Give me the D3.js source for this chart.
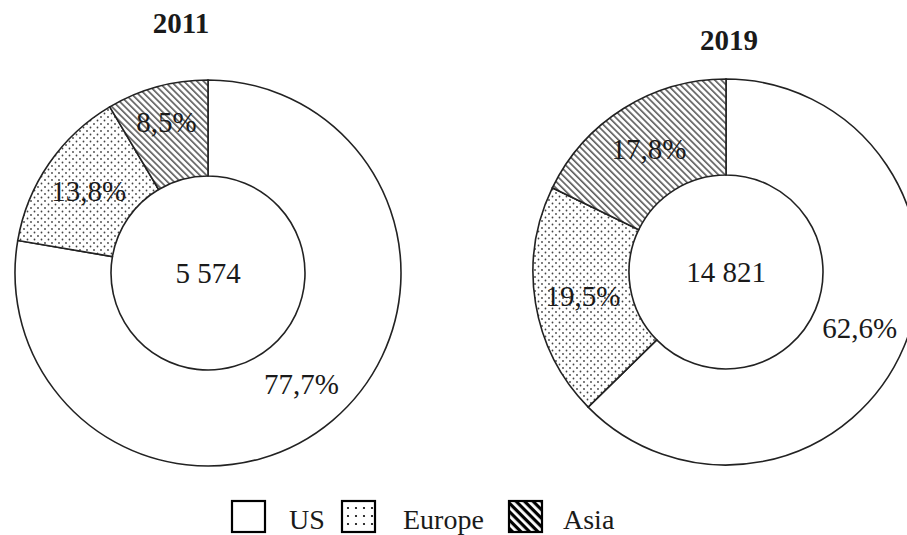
<!DOCTYPE html>
<html>
<head>
<meta charset="utf-8">
<script src="https://cdn.jsdelivr.net/npm/d3@7"></script>
<style>
  html, body { margin: 0; padding: 0; background: #fff; }
  svg { display: block; }
  text { font-family: "Liberation Serif", "Times New Roman", serif; fill: #1a1a1a; }
</style>
</head>
<body>
<svg id="chart" width="907" height="535"></svg>
<script>
// ---- data ----
const categories = ["US", "Europe", "Asia"];
const years = ["2011", "2019"];
const totals = [5574, 14821];
const shares2011 = [77.7, 13.8, 8.5];
const shares2019 = [62.6, 19.5, 17.8];

// ---- setup ----
const svg = d3.select("#chart");
const loc = d3.formatLocale({decimal: ",", thousands: " ", grouping: [3], currency: ["", ""]});
const fmtPct = v => loc.format(".1f")(v) + "%";
const fmtTot = loc.format(",d");

const defs = svg.append("defs");
// Europe: dotted pattern
const pDots = defs.append("pattern").attr("id", "dots")
  .attr("patternUnits", "userSpaceOnUse").attr("width", 7).attr("height", 7);
pDots.append("rect").attr("width", 7).attr("height", 7).attr("fill", "#fff");
pDots.append("circle").attr("cx", 1.5).attr("cy", 1.5).attr("r", 0.9).attr("fill", "#444");
pDots.append("circle").attr("cx", 5).attr("cy", 5).attr("r", 0.9).attr("fill", "#444");
// Asia: hatched pattern
const pHatch = defs.append("pattern").attr("id", "hatch")
  .attr("patternUnits", "userSpaceOnUse").attr("width", 4.6).attr("height", 4.6)
  .attr("patternTransform", "rotate(45)");
pHatch.append("rect").attr("width", 4.6).attr("height", 4.6).attr("fill", "#fff");
pHatch.append("line").attr("x1", 0).attr("y1", 1).attr("x2", 4.6).attr("y2", 1)
  .attr("stroke", "#333").attr("stroke-width", 1.3);
// legend versions
const pDotsL = defs.append("pattern").attr("id", "dotsL")
  .attr("patternUnits", "userSpaceOnUse").attr("width", 8).attr("height", 8);
pDotsL.append("rect").attr("width", 8).attr("height", 8).attr("fill", "#fff");
pDotsL.append("circle").attr("cx", 4).attr("cy", 4).attr("r", 1.1).attr("fill", "#000");
const pHatchL = defs.append("pattern").attr("id", "hatchL")
  .attr("patternUnits", "userSpaceOnUse").attr("width", 6).attr("height", 6)
  .attr("patternTransform", "rotate(45)");
pHatchL.append("rect").attr("width", 6).attr("height", 6).attr("fill", "#fff");
pHatchL.append("rect").attr("x", 0).attr("y", 0).attr("width", 6).attr("height", 3.2).attr("fill", "#000");

const fills = d3.scaleOrdinal().domain(categories).range(["#fff", "url(#dots)", "url(#hatch)"]);
const legendFills = d3.scaleOrdinal().domain(categories).range(["#fff", "url(#dotsL)", "url(#hatchL)"]);

const R = 193, r = 97;
const arc = d3.arc().innerRadius(r).outerRadius(R);
const pie = d3.pie().sort(null).value(d => d.v);

const charts = [
  {year: years[0], total: totals[0], shares: shares2011, cx: 208, cy: 273, tx: 181, ty: 33},
  {year: years[1], total: totals[1], shares: shares2019, cx: 726, cy: 272, tx: 729, ty: 50}
];

charts.forEach(c => {
  const data = categories.map((k, i) => ({k, v: c.shares[i]}));
  const g = svg.append("g").attr("transform", `translate(${c.cx},${c.cy})`);
  const arcs = pie(data);
  g.selectAll("path.slice").data(arcs).join("path")
    .attr("class", "slice")
    .attr("d", arc)
    .attr("fill", d => fills(d.data.k))
    .attr("stroke", "#222").attr("stroke-width", 1.6);
  g.selectAll("text.pct").data(arcs).join("text")
    .attr("class", "pct")
    .attr("transform", d => {
      const span = d.endAngle - d.startAngle;
      const lr = span < 0.7 ? 157 : 145;
      const a = (d.startAngle + d.endAngle) / 2;
      return `translate(${lr * Math.sin(a)},${-lr * Math.cos(a)})`;
    })
    .attr("text-anchor", "middle").attr("dy", "0.35em")
    .style("font-size", "29px")
    .text(d => fmtPct(d.data.v));
  g.append("text").attr("text-anchor", "middle").attr("dy", "0.35em")
    .style("font-size", "29px").text(fmtTot(c.total));
  svg.append("text").attr("x", c.tx).attr("y", c.ty).attr("text-anchor", "middle")
    .style("font-size", "29px").style("font-weight", "bold").text(c.year);
});

// ---- legend ----
const legendBoxX = [232, 342, 509];
const legendTextX = [289, 403, 563];
const lg = svg.append("g");
categories.forEach((k, i) => {
  lg.append("rect").attr("x", legendBoxX[i]).attr("y", 501).attr("width", 33).attr("height", 31)
    .attr("fill", legendFills(k)).attr("stroke", "#000").attr("stroke-width", 2.2);
  lg.append("text").attr("x", legendTextX[i]).attr("y", 529)
    .style("font-size", "28px").text(k);
});
</script>
</body>
</html>
